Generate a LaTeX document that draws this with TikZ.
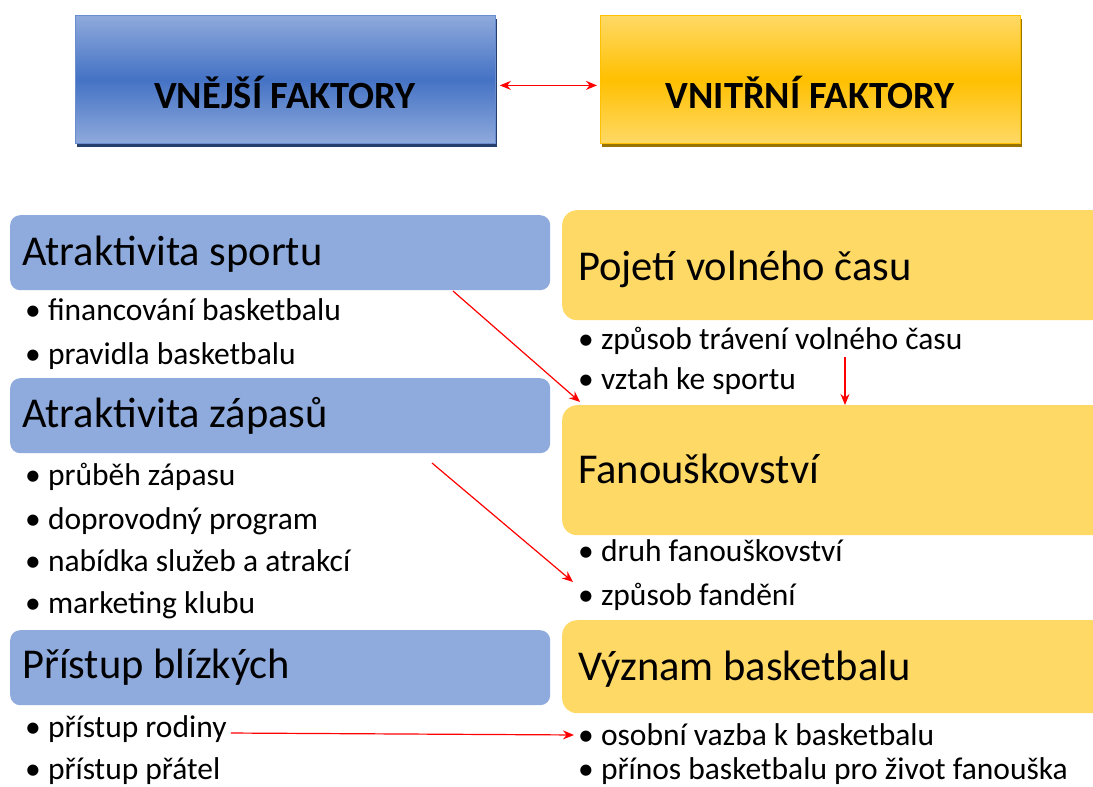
\documentclass[tikz,border=0pt]{standalone}
\usepackage{fontspec}
\setmainfont{Carlito}
\usetikzlibrary{arrows.meta}
\definecolor{lblue}{HTML}{8FAADC}
\definecolor{dblue}{HTML}{4472C4}
\definecolor{lyel}{HTML}{FFD966}
\definecolor{dyel}{HTML}{FFC000}
\definecolor{redarr}{HTML}{FF0000}
\begin{document}
\begin{tikzpicture}[x=1pt,y=-1pt,
  topbox/.style={minimum width=420pt, minimum height=128pt, anchor=north west, inner sep=0pt, line width=0.8pt},
  toptext/.style={font=\fontsize{38.5}{44}\selectfont\bfseries, text=black, inner sep=0pt},
  leftbox/.style={fill=lblue, rounded corners=10pt, minimum width=540pt, minimum height=75pt, anchor=north west, inner sep=0pt},
  rightbox/.style={fill=lyel, rounded corners=15pt, minimum width=560pt, anchor=north west, inner sep=0pt},
  hdr/.style={font=\fontsize{42.5}{48}\selectfont, anchor=base west, inner sep=0pt},
  item/.style={font=\fontsize{31.5}{36}\selectfont, anchor=base west, inner sep=0pt},
  redarrow/.style={draw=redarr, line width=1.2pt, -{Stealth[length=11pt,width=9pt]}}
]
\useasboundingbox (0,0) rectangle (1093,787);
\clip (0,0) rectangle (1093,787);
\fill[white] (0,0) rectangle (1093,787);

% top boxes
\fill[dblue!55!black] (77,19) rectangle (497,147);
\node[topbox, draw=dblue!80, top color=lblue, bottom color=lblue, middle color=dblue] (ext) at (75,15) {};
\node[toptext] (extt) at (285,92) {VNĚJŠÍ FAKTORY};
\fill[dyel!60!black] (602,19) rectangle (1022,147);
\node[topbox, draw=dyel, top color=lyel, bottom color=lyel, middle color=dyel] (int) at (600,15) {};
\node[toptext] (intt) at (810,92) {VNITŘNÍ FAKTORY};
\draw[draw=redarr, line width=1.2pt, {Stealth[length=11pt,width=9pt]}-{Stealth[length=11pt,width=9pt]}, shorten <=4pt, shorten >=3pt]
  ([yshift=-6pt]ext.east) -- ([yshift=-6pt]int.west);

% left boxes
\node[leftbox] (b1) at (10,215) {};
\node[hdr] (b1t) at (22,265) {Atraktivita sportu};
\node[item] (b1a) at (25,320) {• financování basketbalu};
\node[item] (b1b) at (25,364) {• pravidla basketbalu};

\node[leftbox] (b2) at (10,378) {};
\node[hdr] (b2t) at (22,427) {Atraktivita zápasů};
\node[item] (b2a) at (25,485) {• průběh zápasu};
\node[item] (b2b) at (25,529) {• doprovodný program};
\node[item] (b2c) at (25,571) {• nabídka služeb a atrakcí};
\node[item] (b2d) at (25,613) {• marketing klubu};

\node[leftbox] (b3) at (10,630) {};
\node[hdr] (b3t) at (22,678) {Přístup blízkých};
\node[item] (b3a) at (25,737) {• přístup rodiny};
\node[item] (b3b) at (25,779) {• přístup přátel};

% right boxes
\node[rightbox, minimum height=110pt] (r1) at (562,210) {};
\node[hdr] (r1t) at (578,280) {Pojetí volného času};
\node[item] (r1a) at (578,349) {• způsob trávení volného času};
\node[item] (r1b) at (578,389) {• vztah ke sportu};

\node[rightbox, minimum height=130pt] (r2) at (562,405) {};
\node[hdr] (r2t) at (578,483) {Fanouškovství};
\node[item] (r2a) at (578,561) {• druh fanouškovství};
\node[item] (r2b) at (578,605) {• způsob fandění};

\node[rightbox, minimum height=93pt] (r3) at (562,620) {};
\node[hdr] (r3t) at (578,680) {Význam basketbalu};
\node[item] (r3a) at (578,745) {• osobní vazba k basketbalu};
\node[item] (r3b) at (578,779) {• přínos basketbalu pro život fanouška};

% connectors
\coordinate (s1) at (453,291);
\coordinate (e1) at (580,402);
\draw[redarrow] (s1) -- (e1);
\coordinate (s2) at (845,357);
\draw[redarrow] (s2) -- (s2 |- r2.north) ;
\coordinate (s3) at (432,463);
\coordinate (e3) at (573,582);
\draw[redarrow] (s3) -- (e3);
\draw[redarrow, shorten <=4pt, shorten >=4pt] (b3a.east |- 0,733) -- (r3a.west |- 0,735);
\end{tikzpicture}
\end{document}
